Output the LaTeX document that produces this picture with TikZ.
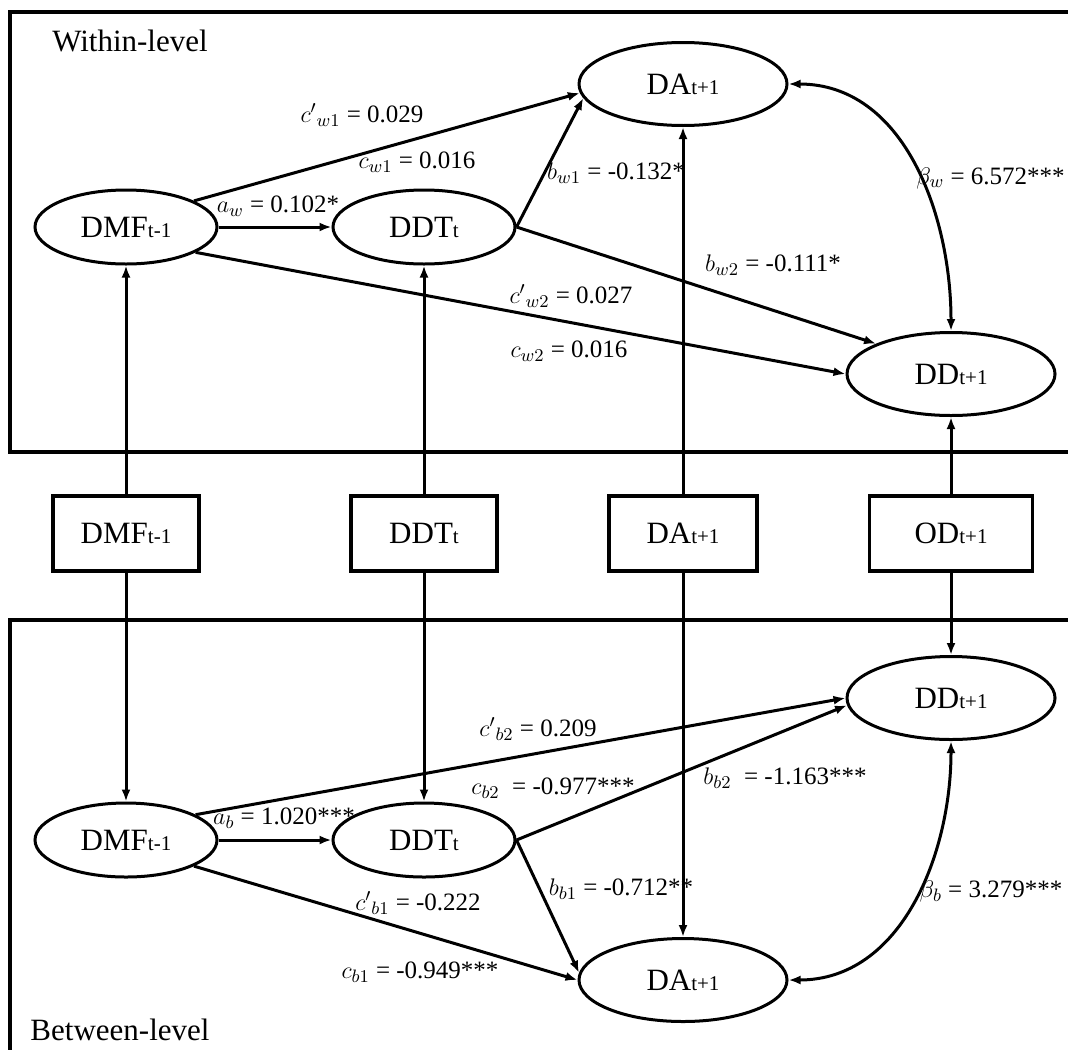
\documentclass[tikz,border=0pt]{standalone}
\usepackage{fontspec}
\setmainfont{Liberation Serif}
\usetikzlibrary{shapes.geometric,arrows.meta}

% variable name with its time index set small beside it
\newcommand\vname[2]{{\fontsize{15.5}{16}\selectfont #1}{\fontsize{10.5}{11}\selectfont #2}}

\tikzset{
  latent/.style={ellipse, draw, line width=1.5pt, minimum width=91pt, minimum height=37pt, inner sep=0pt},
  bigl/.style={latent, minimum width=104pt, minimum height=41.5pt},
  observed/.style={rectangle, draw, line width=1.8pt, minimum height=37.5pt, inner sep=0pt},
  effect/.style={line width=1.5pt, -{Latex[length=6pt,width=4.5pt]}},
  covar/.style={line width=1.5pt, {Latex[length=6pt,width=4.5pt]}-{Latex[length=6pt,width=4.5pt]}},
  coef/.style={font=\fontsize{12.5}{13}\selectfont, inner sep=0pt},
  level/.style={font=\fontsize{15.5}{16}\selectfont, inner sep=0pt},
  panel/.style={line width=2pt}
}

\begin{document}
\begin{tikzpicture}[x=0.5pt,y=-0.5pt]
\clip (0,0) rectangle (1068,1049);
\fill[white] (0,0) rectangle (1068,1049);

% the two level panels
\draw[panel] (10,12) rectangle (1090,452);
\draw[panel] (10,620) rectangle (1090,1070);
\node[level] (wl) at (130,41) {Within-level};
\node[level] (bl) at (120,1030) {Between-level};

% within-level latent variables
\node[latent] (dmfw) at (126,227) {\vname{DMF}{t-1}};
\node[latent] (ddtw) at (424,227) {\vname{DDT}{t}};
\node[bigl] (daw) at (683,84) {\vname{DA}{t+1}};
\node[bigl] (ddw) at (951,374) {\vname{DD}{t+1}};

% observed variables
\node[observed, minimum width=73pt] (dmfbox) at (126,533.5) {\vname{DMF}{t-1}};
\node[observed, minimum width=73pt] (ddtbox) at (424,533.5) {\vname{DDT}{t}};
\node[observed, minimum width=74pt] (dabox) at (683,533.5) {\vname{DA}{t+1}};
\node[observed, minimum width=81.5pt] (odbox) at (951,533.5) {\vname{OD}{t+1}};

% between-level latent variables
\node[latent] (dmfb) at (126,840) {\vname{DMF}{t-1}};
\node[latent] (ddtb) at (424,840) {\vname{DDT}{t}};
\node[bigl] (ddb) at (951,698) {\vname{DD}{t+1}};
\node[bigl] (dab) at (683,980) {\vname{DA}{t+1}};

% observed to latent
\draw[effect] (dmfbox) -- (dmfw);
\draw[effect] (ddtbox) -- (ddtw);
\draw[effect] (dabox) -- (daw);
\draw[effect] (odbox) -- (ddw);
\draw[effect] (dmfbox) -- (dmfb);
\draw[effect] (ddtbox) -- (ddtb);
\draw[effect] (dabox) -- (dab);
\draw[effect] (odbox) -- (ddb);

% within-level paths
\draw[effect] (dmfw) -- (ddtw);
\draw[effect] (dmfw.21) -- (daw.185);
\draw[effect] (ddtw.east) -- (daw.188);
\draw[effect] (ddtw.east) -- (ddw.158);
\draw[effect] (dmfw.-20) -- (ddw.west);
\draw[covar] (daw.east) to[out=0,in=90] (ddw.north);

% between-level paths
\draw[effect] (dmfb) -- (ddtb);
\draw[effect] (dmfb.20) -- (ddb.west);
\draw[effect] (ddtb.east) -- (ddb.184);
\draw[effect] (ddtb.east) -- (dab.176);
\draw[effect] (dmfb.-21) -- (dab.west);
\draw[covar] (ddb.south) to[out=-90,in=0] (dab.east);

% within-level coefficients
\node[coef] (cw1p) at (362,115) {$c'{}_{w1}$ = 0.029};
\node[coef] (cw1) at (417,162) {$c_{w1}$ = 0.016};
\node[coef] (aw) at (278,206) {$a_{w}$ = 0.102*};
\node[coef] (bw1) at (616,173) {$b_{w1}$ = -0.132*};
\node[coef, anchor=east] (betaw) at (1065,178) {$\beta_{w}$ = 6.572***};
\node[coef] (bw2) at (773,265) {$b_{w2}$ = -0.111*};
\node[coef] (cw2p) at (571,296) {$c'{}_{w2}$ = 0.027};
\node[coef] (cw2) at (569,351) {$c_{w2}$ = 0.016};

% between-level coefficients
\node[coef] (cb2p) at (538,729) {$c'{}_{b2}$ = 0.209};
\node[coef] (cb2) at (553,788) {$c_{b2}$ \ = -0.977***};
\node[coef] (bb2) at (785,778) {$b_{b2}$ \ = -1.163***};
\node[coef] (ab) at (284,818) {$a_{b}$ = 1.020***};
\node[coef] (cb1p) at (418,903) {$c'{}_{b1}$ = -0.222};
\node[coef] (cb1) at (420,972) {$c_{b1}$ = -0.949***};
\node[coef] (bb1) at (621,889) {$b_{b1}$ = -0.712**};
\node[coef] (betab) at (991,891) {$\beta_{b}$ = 3.279***};
\end{tikzpicture}
\end{document}
